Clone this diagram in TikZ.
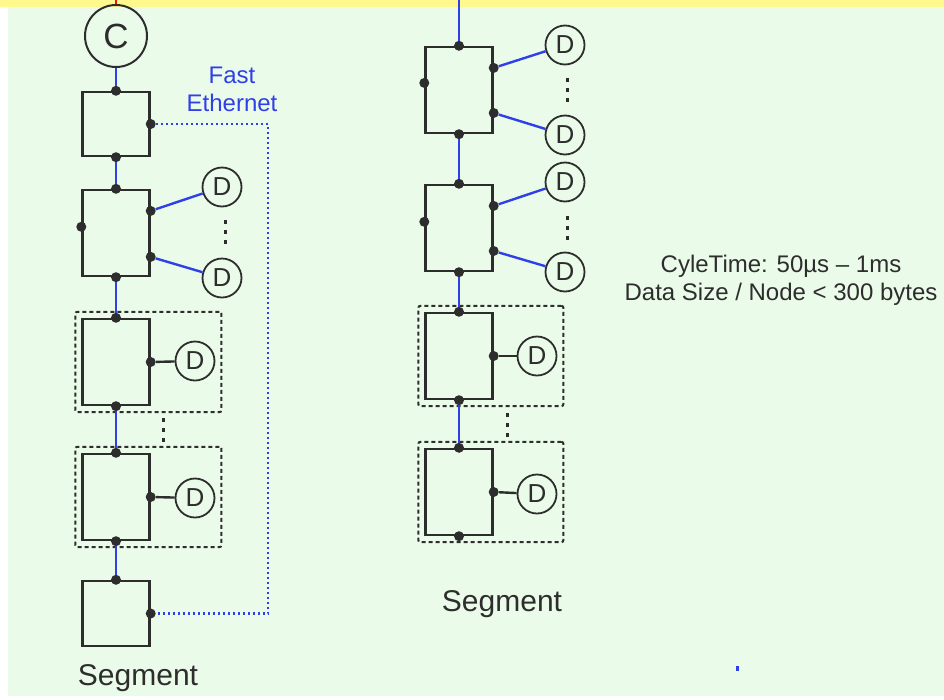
\documentclass[tikz,border=0pt]{standalone}
\usepackage{fontspec}
\setmainfont{Liberation Sans}
\usetikzlibrary{positioning,calc,fit}
\definecolor{bgreen}{RGB}{235,251,233}
\definecolor{byellow}{RGB}{255,248,140}
\definecolor{netblue}{RGB}{48,64,232}
\definecolor{inkgray}{RGB}{45,45,45}
\definecolor{topred}{RGB}{230,20,20}
\newcommand{\stackdots}[2]{\foreach \k in {0,1,2} \fill[inkgray] (#1-1.5,#2+10*\k-2) rectangle ++(3,4);}
\tikzset{
  unit/.style={draw=inkgray, line width=2.4pt, minimum width=67pt, inner sep=0pt},
  jdot/.style={circle, fill=inkgray, inner sep=0pt, minimum size=10pt},
  dev/.style={circle, draw=inkgray, line width=1.8pt, minimum size=39pt, inner sep=0pt,
              font=\fontsize{26}{26}\selectfont, text=inkgray},
  ctrl/.style={circle, draw=inkgray, line width=2pt, minimum size=62pt, inner sep=0pt,
              font=\fontsize{35}{35}\selectfont, text=inkgray},
  grp/.style={draw=inkgray, line width=2pt, dash pattern=on 4pt off 3pt, rounded corners=2pt, inner sep=6pt},
  bus/.style={netblue, line width=2.4pt},
  stub/.style={inkgray, line width=2.4pt},
  fe/.style={netblue, line width=2.5pt, dash pattern=on 2pt off 3pt},
  seglab/.style={font=\fontsize{30}{30}\selectfont, text=inkgray},
  txt/.style={align=center, font=\fontsize{24}{28}\selectfont},
}
\begin{document}
\begin{tikzpicture}[x=1pt, y=-1pt]
  % background
  \useasboundingbox (0,0) rectangle (944,699);
  \fill[white] (0,0) rectangle (944,699);
  \fill[bgreen] (8,7) rectangle (944,696);
  \fill[byellow] (0,0) rectangle (944,7);

  % left segment
  \node[ctrl] (c) at (116,36) {C};
  \coordinate (ctop) at (116,0);
  \draw[topred, line width=2pt] (ctop) -- (c);

  \node[unit, minimum height=64pt] (b1) at (116,124) {};
  \node[unit, minimum height=86pt] (b2) at (116,233) {};
  \node[unit, minimum height=86pt] (b3) at (116,362) {};
  \node[unit, minimum height=86pt] (b4) at (116,497) {};
  \node[unit, minimum height=65pt] (b5) at (116,613.5) {};

  \node[dev] (d21) at (222,187) {D};
  \node[dev] (d22) at (222,278) {D};
  \node[dev] (d3) at (195,361) {D};
  \node[dev] (d4) at (195,498) {D};

  \node[grp, fit=(b3)(d3)] (g3) {};
  \node[grp, fit=(b4)(d4)] (g4) {};

  \node[jdot] (b1t) at (b1.north) {};
  \node[jdot] (b1r) at (b1.east) {};
  \node[jdot] (b1b) at (b1.south) {};
  \node[jdot] (b2t) at (b2.north) {};
  \node[jdot] (b2l) at ($(b2.north west)!0.43!(b2.south west)$) {};
  \node[jdot] (b2ru) at ($(b2.north east)!0.25!(b2.south east)$) {};
  \node[jdot] (b2rl) at ($(b2.north east)!0.77!(b2.south east)$) {};
  \node[jdot] (b2b) at (b2.south) {};
  \node[jdot] (b3t) at (b3.north) {};
  \node[jdot] (b3r) at (b3.east) {};
  \node[jdot] (b3b) at (b3.south) {};
  \node[jdot] (b4t) at (b4.north) {};
  \node[jdot] (b4r) at (b4.east) {};
  \node[jdot] (b4b) at (b4.south) {};
  \node[jdot] (b5t) at (b5.north) {};
  \node[jdot] (b5r) at (b5.east) {};

  \draw[bus] (c) -- (b1t);
  \draw[bus] (b1b) -- (b2t);
  \draw[bus] (b2b) -- (b3t);
  \draw[bus] (b3b) -- (b4t);
  \draw[bus] (b4b) -- (b5t);
  \draw[bus] (b2ru) -- (d21);
  \draw[bus] (b2rl) -- (d22);
  \draw[stub] (b3r) -- (d3);
  \draw[stub] (b4r) -- (d4);

  \coordinate (feline) at (268,0);
  \draw[fe] (b1r) -- (b1r -| feline) -- (b5r -| feline) -- (b5r);
  \node[txt, text=netblue] (felab) at (232,89) {Fast\\Ethernet};

  \stackdots{225}{222}
  \stackdots{163}{420}
  \node[seglab] (seg1) at (138,678) {Segment};

  % right segment
  \node[unit, minimum height=86pt] (r1) at (459,90) {};
  \node[unit, minimum height=86pt] (r2) at (459,228) {};
  \node[unit, minimum height=86pt] (r3) at (459,356) {};
  \node[unit, minimum height=86pt] (r4) at (459,492) {};

  \node[dev] (e11) at (565,45) {D};
  \node[dev] (e12) at (565,135) {D};
  \node[dev] (e21) at (565,182) {D};
  \node[dev] (e22) at (565,272) {D};
  \node[dev] (e3) at (537,356) {D};
  \node[dev] (e4) at (537,494) {D};

  \node[grp, fit=(r3)(e3)] (h3) {};
  \node[grp, fit=(r4)(e4)] (h4) {};

  \node[jdot] (r1t) at (r1.north) {};
  \node[jdot] (r1l) at ($(r1.north west)!0.42!(r1.south west)$) {};
  \node[jdot] (r1ru) at ($(r1.north east)!0.25!(r1.south east)$) {};
  \node[jdot] (r1rl) at ($(r1.north east)!0.76!(r1.south east)$) {};
  \node[jdot] (r1b) at (r1.south) {};
  \node[jdot] (r2t) at (r2.north) {};
  \node[jdot] (r2l) at ($(r2.north west)!0.43!(r2.south west)$) {};
  \node[jdot] (r2ru) at ($(r2.north east)!0.25!(r2.south east)$) {};
  \node[jdot] (r2rl) at ($(r2.north east)!0.76!(r2.south east)$) {};
  \node[jdot] (r2b) at (r2.south) {};
  \node[jdot] (r3t) at (r3.north) {};
  \node[jdot] (r3r) at (r3.east) {};
  \node[jdot] (r3b) at (r3.south) {};
  \node[jdot] (r4t) at (r4.north) {};
  \node[jdot] (r4r) at (r4.east) {};
  \node[jdot] (r4b) at (r4.south) {};

  \coordinate (rtop) at (459,0);
  \draw[bus] (rtop) -- (r1t);
  \draw[bus] (r1b) -- (r2t);
  \draw[bus] (r2b) -- (r3t);
  \draw[bus] (r3b) -- (r4t);
  \draw[bus] (r1ru) -- (e11);
  \draw[bus] (r1rl) -- (e12);
  \draw[bus] (r2ru) -- (e21);
  \draw[bus] (r2rl) -- (e22);
  \draw[stub] (r3r) -- (e3);
  \draw[stub] (r4r) -- (e4);

  \stackdots{567}{80}
  \stackdots{567}{218}
  \stackdots{507}{415}
  \node[seglab] (seg2) at (502,604) {Segment};

  % timing note
  \node[txt, text=inkgray] (spec) at (781,280) {CyleTime: 50µs – 1ms\\Data Size / Node < 300 bytes};
  \fill[netblue] (736,666) rectangle (739,671);
\end{tikzpicture}
\end{document}
